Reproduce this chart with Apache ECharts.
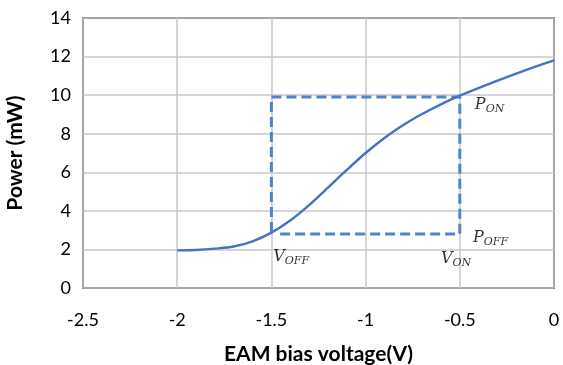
<!DOCTYPE html>
<html>
<head>
<meta charset="utf-8">
<script src="https://cdn.jsdelivr.net/npm/echarts@6/dist/echarts.min.js"></script>
<style>
  html, body { margin: 0; padding: 0; background: #fff; }
  #chart { width: 563px; height: 365px; }
</style>
</head>
<body>
<div id="chart"></div>
<script>
// transfer curve
const biasV = [-2, -1.9, -1.8, -1.7, -1.6, -1.5, -1.4, -1.3, -1.2, -1.1, -1, -0.9, -0.8, -0.7, -0.6, -0.5, -0.3, -0.15, 0];
const powerMW = [1.95, 1.97, 2.04, 2.15, 2.42, 2.87, 3.5, 4.3, 5.2, 6.12, 7.0, 7.78, 8.45, 9.02, 9.52, 9.97, 10.75, 11.3, 11.8];

// operating window (dashed box)
const vOff = -1.5, vOn = -0.5;
const pOn = 9.9, pOff = 2.8;
const boxPath = [[vOff, 2.9], [vOff, pOn], [vOn, pOn], [vOn, pOff], [-1.47, pOff]];

// annotation labels: main letter, subscript, anchor point
const annoMain = ['V', 'V', 'P', 'P'];
const annoSub = ['OFF', 'ON', 'ON', 'OFF'];
const annoPos = [[-1.49, 1.6], [-0.6, 1.5], [-0.42, 9.5], [-0.43, 2.6]];

const chart = echarts.init(document.getElementById('chart'));

const axisFont = { fontFamily: 'Lato', fontSize: 18, color: '#000' };
const titleFont = { fontFamily: 'Lato', fontSize: 21, fontWeight: 'bold', color: '#000' };

chart.setOption({
  animation: false,
  grid: {
    left: 83, top: 18, right: 9, bottom: 77,
    outerBoundsMode: 'none',
    show: true, borderColor: '#000', borderWidth: 1.5
  },
  xAxis: {
    type: 'value', min: -2.5, max: 0, interval: 0.5,
    name: 'EAM bias voltage(V)', nameLocation: 'middle', nameGap: 56,
    nameTextStyle: titleFont,
    axisLine: { show: false },
    axisTick: { show: false },
    axisLabel: Object.assign({ margin: 23 }, axisFont),
    splitLine: { lineStyle: { color: '#c8c8c8', width: 1.5 } }
  },
  yAxis: {
    type: 'value', min: 0, max: 14, interval: 2,
    name: 'Power (mW)', nameLocation: 'middle', nameGap: 57,
    nameTextStyle: titleFont,
    axisLine: { show: false },
    axisTick: { show: false },
    axisLabel: Object.assign({ margin: 12 }, axisFont),
    splitLine: { lineStyle: { color: '#c8c8c8', width: 1.5 } }
  },
  series: [
    {
      type: 'line',
      data: boxPath,
      symbol: 'none',
      lineStyle: { color: '#4f83d1', width: 3, type: [10, 5] },
      z: 2
    },
    {
      type: 'line',
      data: biasV.map((v, i) => [v, powerMW[i]]),
      smooth: 0.3,
      symbol: 'none',
      lineStyle: { color: '#4472c4', width: 2.4 },
      z: 3
    },
    {
      type: 'scatter',
      symbolSize: 0,
      data: annoPos.map((p, i) => ({ value: p, main: annoMain[i], sub: annoSub[i] })),
      label: {
        show: true,
        position: 'inside',
        align: 'left',
        formatter: p => '{m|' + p.data.main + '}{s|' + p.data.sub + '}',
        rich: {
          m: { fontFamily: 'DejaVu Serif', fontStyle: 'italic', fontSize: 16, color: '#000' },
          s: { fontFamily: 'DejaVu Serif', fontStyle: 'italic', fontSize: 11, color: '#000', padding: [8, 0, 0, 0] }
        }
      },
      z: 4
    }
  ]
});
</script>
</body>
</html>
